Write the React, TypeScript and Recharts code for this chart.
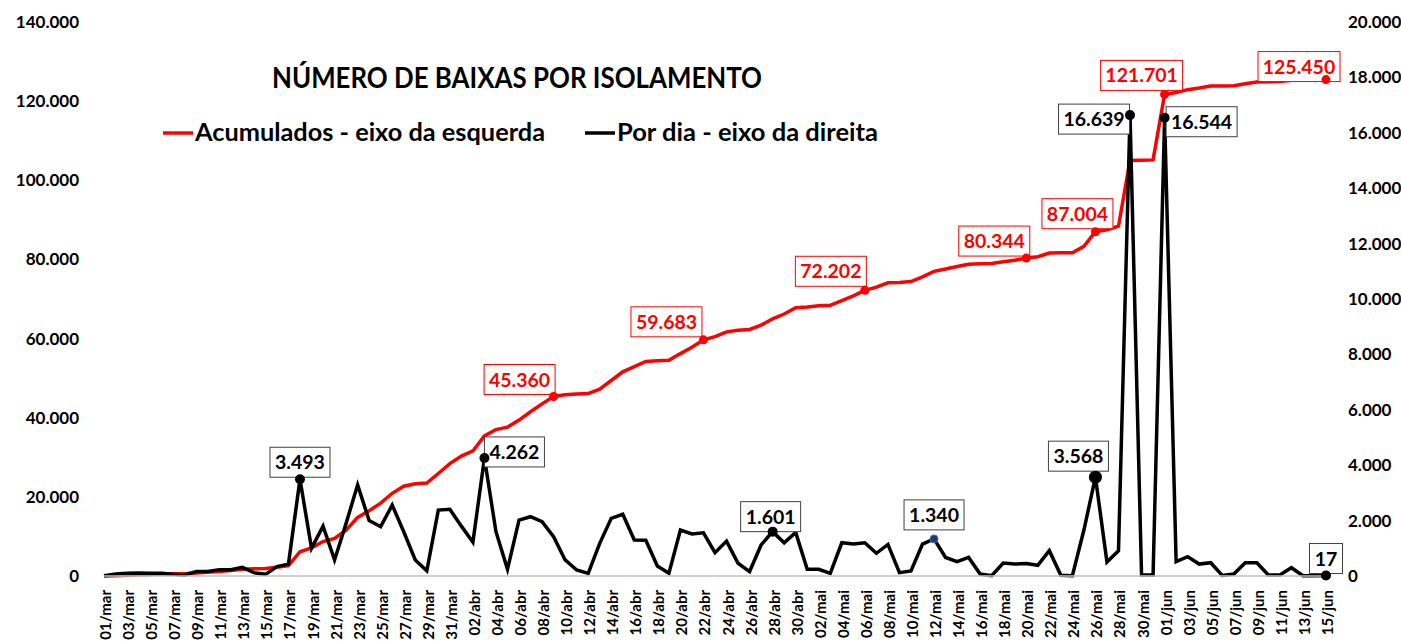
import React from 'react'
import { LineChart, Line, XAxis, YAxis } from 'recharts'

// datas (eixo x)
const dias = [
  '01/mar', '02/mar', '03/mar', '04/mar', '05/mar', '06/mar', '07/mar', '08/mar', '09/mar', '10/mar',
  '11/mar', '12/mar', '13/mar', '14/mar', '15/mar', '16/mar', '17/mar', '18/mar', '19/mar', '20/mar',
  '21/mar', '22/mar', '23/mar', '24/mar', '25/mar', '26/mar', '27/mar', '28/mar', '29/mar', '30/mar',
  '31/mar',
  '01/abr', '02/abr', '03/abr', '04/abr', '05/abr', '06/abr', '07/abr', '08/abr', '09/abr', '10/abr',
  '11/abr', '12/abr', '13/abr', '14/abr', '15/abr', '16/abr', '17/abr', '18/abr', '19/abr', '20/abr',
  '21/abr', '22/abr', '23/abr', '24/abr', '25/abr', '26/abr', '27/abr', '28/abr', '29/abr', '30/abr',
  '01/mai', '02/mai', '03/mai', '04/mai', '05/mai', '06/mai', '07/mai', '08/mai', '09/mai', '10/mai',
  '11/mai', '12/mai', '13/mai', '14/mai', '15/mai', '16/mai', '17/mai', '18/mai', '19/mai', '20/mai',
  '21/mai', '22/mai', '23/mai', '24/mai', '25/mai', '26/mai', '27/mai', '28/mai', '29/mai', '30/mai',
  '31/mai',
  '01/jun', '02/jun', '03/jun', '04/jun', '05/jun', '06/jun', '07/jun', '08/jun', '09/jun', '10/jun',
  '11/jun', '12/jun', '13/jun', '14/jun', '15/jun',
]

// acumulados - eixo da esquerda
const acumulados = [
  20, 90, 190, 300, 400, 500, 560, 600, 760, 920,
  1150, 1380, 1690, 1810, 1870, 2210, 2640, 6130, 7130, 8700,
  9500, 11600, 14800, 16500, 18400, 20900, 22700, 23300, 23500, 25900,
  28400,
  30300, 31600, 35400, 37000, 37600, 39400, 41500, 43500, 45360, 45800,
  46000, 46100, 47200, 49400, 51600, 52900, 54200, 54400, 54500, 56200,
  57800, 59683, 60500, 61700, 62100, 62300, 63400, 65000, 66200, 67800,
  68000, 68300, 68400, 69600, 70800, 72202, 73000, 74100, 74200, 74400,
  75600, 77000, 77600, 78200, 78800, 78900, 78950, 79400, 79800, 80344,
  80700, 81600, 81700, 81700, 83300, 87004, 87500, 88400, 105000, 105050,
  105150,
  121701, 122200, 122900, 123300, 123800, 123850, 123900, 124400, 124850, 124900,
  124950, 125250, 125300, 125400, 125450,
]

// por dia - eixo da direita
const porDia = [
  10, 70, 100, 110, 100, 100, 60, 40, 160, 160,
  230, 230, 310, 120, 60, 340, 430, 3493, 1000, 1800,
  580, 1900, 3290, 2000, 1780, 2560, 1600, 580, 190, 2380,
  2410,
  1800, 1220, 4262, 1600, 240, 2020, 2140, 1960, 1420, 580,
  217, 96, 1180, 2080, 2230, 1300, 1290, 360, 96, 1660,
  1520, 1560, 840, 1260, 460, 160, 1120, 1601, 1200, 1575,
  240, 240, 96, 1200, 1155, 1200, 820, 1140, 120, 180,
  1150, 1340, 670, 520, 670, 72, 12, 470, 430, 450,
  385, 915, 24, 10, 1660, 3568, 505, 915, 16639, 40,
  40,
  16544, 520, 700, 430, 480, 20, 70, 480, 480, 40,
  40, 300, 10, 10, 17,
]

const ticksEsquerda = [0, 20000, 40000, 60000, 80000, 100000, 120000, 140000]
const ticksDireita = [0, 2000, 4000, 6000, 8000, 10000, 12000, 14000, 16000, 18000, 20000]

// pontos com rotulo
const rotulosAcumulados = [39, 52, 66, 80, 86, 92, 106]
const rotulosPorDia = [17, 33, 58, 72, 86, 89, 92, 106]

const RED = '#ff0000'

// posicao do centro da caixa em relacao ao ponto
const posAcum: { [i: number]: [number, number] } = {
  39: [-34, -17], 52: [-37, -18], 66: [-34, -19], 80: [-32, -17],
  86: [-18, -18], 92: [-23, -19], 106: [-27, -13],
}
const posDia: { [i: number]: [number, number] } = {
  17: [0, -17], 33: [30, -6], 58: [-2, -15], 72: [0, -24],
  86: [-17, -21], 89: [-36, 4], 92: [37, 4], 106: [0, -17],
}

const fmt = (v: number) => String(v).replace(/\B(?=(\d{3})+(?!\d))/g, '.')

const data = dias.map((dia, i) => ({ dia, acumulados: acumulados[i], porDia: porDia[i] }))

function Rotulo({ cx, cy, text, color, border }: any) {
  const digits = text.replace(/\./g, '').length
  const dots = text.length - digits
  const w = digits * 11 + dots * 5 + 11
  const h = 30
  return (
    <g>
      <rect x={cx - w / 2} y={cy - h / 2} width={w} height={h} fill="#fff" stroke={border} strokeWidth={1} />
      <text x={cx} y={cy + 7} textAnchor="middle" fontSize={19.5} fontWeight={700} fill={color}>
        {text}
      </text>
    </g>
  )
}

function DateTick({ x, y, payload }: any) {
  const tx = x + 1
  const ty = y + 6
  return (
    <text x={tx} y={ty} transform={`rotate(-90 ${tx} ${ty})`} textAnchor="end" dominantBaseline="central"
      fontSize={15} fontWeight={700} fill="#000">
      {payload.value}
    </text>
  )
}

export default function App() {
  const dotAcum = (props: any) => {
    const { cx, cy, index } = props
    if (!rotulosAcumulados.includes(index)) return <g key={`a${index}`} />
    const [dx, dy] = posAcum[index]
    return (
      <g key={`a${index}`}>
        <Rotulo cx={cx + dx} cy={cy + dy} text={fmt(acumulados[index])} color={RED} border={RED} />
        <circle cx={cx} cy={cy} r={4.5} fill={RED} />
      </g>
    )
  }

  const dotDia = (props: any) => {
    const { cx, cy, index } = props
    if (!rotulosPorDia.includes(index)) return <g key={`d${index}`} />
    const [dx, dy] = posDia[index]
    const blue = index === 72
    return (
      <g key={`d${index}`}>
        <Rotulo cx={cx + dx} cy={cy + dy} text={fmt(porDia[index])} color="#000" border="#404040" />
        <circle cx={cx} cy={cy} r={blue ? 4 : index === 86 ? 6.5 : 5}
          fill={blue ? '#1f3864' : '#000'} stroke={blue ? '#4472c4' : 'none'} strokeWidth={1} />
      </g>
    )
  }

  return (
    <div style={{ position: 'absolute', left: 0, top: 0, width: 1401, height: 642, background: '#fff', fontFamily: 'Lato, sans-serif' }}>
      <LineChart width={1401} height={642} data={data} margin={{ top: 22, right: 0, bottom: 0, left: 0 }}>
        <XAxis dataKey="dia" interval={1} height={66} tick={<DateTick />} tickLine={false}
          axisLine={{ stroke: '#bfbfbf', strokeWidth: 1.5 }} />
        <YAxis yAxisId="esq" orientation="left" width={104} domain={[0, 140000]} ticks={ticksEsquerda}
          tickFormatter={fmt} axisLine={false} tickLine={false} tickSize={0} tickMargin={25}
          tick={{ fontSize: 17, fontWeight: 700, fill: '#000' }} />
        <YAxis yAxisId="dir" orientation="right" width={75} domain={[0, 20000]} ticks={ticksDireita}
          tickFormatter={fmt} axisLine={false} tickLine={false} tickSize={0} tickMargin={22}
          tick={{ fontSize: 17, fontWeight: 700, fill: '#000' }} />
        <Line yAxisId="esq" type="linear" dataKey="acumulados" stroke={RED} strokeWidth={3.5}
          dot={dotAcum} activeDot={false} isAnimationActive={false} />
        <Line yAxisId="dir" type="linear" dataKey="porDia" stroke="#000" strokeWidth={3.5}
          dot={dotDia} activeDot={false} isAnimationActive={false} />
      </LineChart>

      <svg width={1401} height={642} style={{ position: 'absolute', left: 0, top: 0, pointerEvents: 'none' }}>
        <text x={272} y={88} fontSize={28} fontWeight={700} fill="#000" textLength={490} lengthAdjust="spacingAndGlyphs">
          NÚMERO DE BAIXAS POR ISOLAMENTO
        </text>
        <line x1={163} y1={133} x2={193} y2={133} stroke={RED} strokeWidth={3.5} />
        <text x={195} y={141} fontSize={24} fontWeight={700} fill="#000" textLength={350} lengthAdjust="spacingAndGlyphs">
          Acumulados - eixo da esquerda
        </text>
        <line x1={585} y1={133} x2={615} y2={133} stroke="#000" strokeWidth={3.5} />
        <text x={617} y={141} fontSize={24} fontWeight={700} fill="#000" textLength={261} lengthAdjust="spacingAndGlyphs">
          Por dia - eixo da direita
        </text>
      </svg>
    </div>
  )
}
